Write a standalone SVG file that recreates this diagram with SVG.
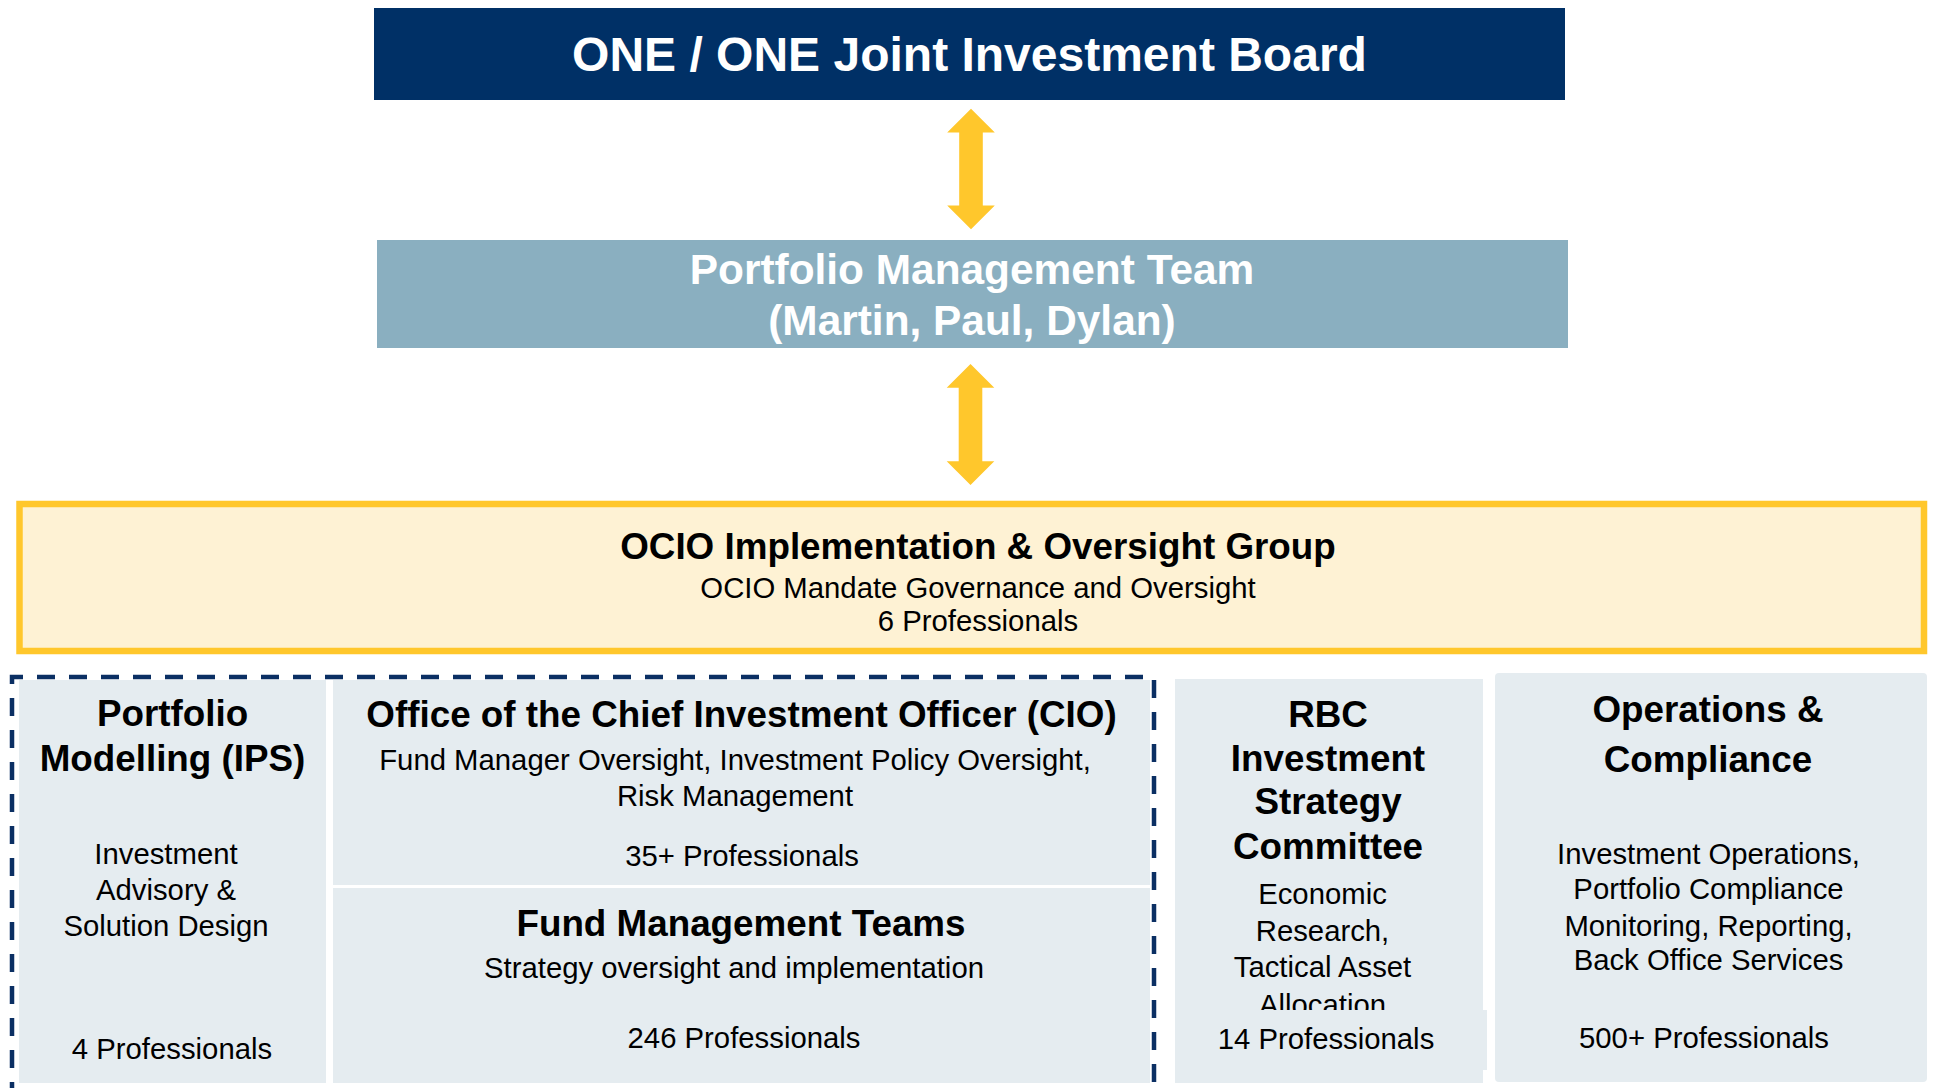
<svg xmlns="http://www.w3.org/2000/svg" width="1933" height="1088" viewBox="0 0 1933 1088">
<style>
text{font-family:"Liberation Sans",Arial,Helvetica,sans-serif;text-anchor:middle}
.h{font-weight:bold;font-size:36.8px;fill:#000}
.t{font-size:29.3px;fill:#000}
.w{fill:#fff;font-weight:bold}
.panel{fill:#E5ECF0}
.arrow{fill:#FFC72C}
</style>
<rect width="1933" height="1088" fill="#fff"/>
<g id="board">
<rect x="374" y="8" width="1191" height="92" fill="#003066"/>
<text class="w" x="969.5" y="71" font-size="48">ONE / ONE Joint Investment Board</text>
</g>
<g id="pmt">
<rect x="377" y="240" width="1191" height="108" fill="#8AAFC0"/>
<text class="w" x="972" y="284" font-size="42.4">Portfolio Management Team</text>
<text class="w" x="972" y="335" font-size="42.4">(Martin, Paul, Dylan)</text>
</g>
<g id="connectors">
<polygon class="arrow" points="971,108.7 994.8,132.4 982.8,132.4 982.8,205.6 994.8,205.6 971,229.3 947.2,205.6 959.2,205.6 959.2,132.4 947.2,132.4"/>
<polygon class="arrow" points="970.5,364 994.3,387.7 982.3,387.7 982.3,461.3 994.3,461.3 970.5,485 946.7,461.3 958.7,461.3 958.7,387.7 946.7,387.7"/>
</g>
<g id="ocio">
<rect x="19.5" y="504" width="1904.5" height="147" fill="#FEF2D4" stroke="#FFC72C" stroke-width="6.5"/>
<text class="h" x="978" y="558.5">OCIO Implementation &amp; Oversight Group</text>
<text class="t" x="978" y="597.5">OCIO Mandate Governance and Oversight</text>
<text class="t" x="978" y="631">6 Professionals</text>
</g>
<g id="internal-group">
<path d="M12,1100 V677 H1154 V1100" fill="none" stroke="#0B2F63" stroke-width="4.5" stroke-dasharray="18 14"/>
</g>
<g id="portfolio-modelling">
<rect class="panel" x="19" y="680" width="307" height="403"/>
<text class="h" x="172.5" y="725.5">Portfolio</text>
<text class="h" x="172.5" y="770.5">Modelling (IPS)</text>
<text class="t" x="166" y="864">Investment</text>
<text class="t" x="166" y="900">Advisory &amp;</text>
<text class="t" x="166" y="936">Solution Design</text>
<text class="t" x="172" y="1059">4 Professionals</text>
</g>
<g id="cio">
<rect class="panel" x="333" y="680" width="817" height="205"/>
<text class="h" x="741.5" y="727">Office of the Chief Investment Officer (CIO)</text>
<text class="t" x="735" y="770">Fund Manager Oversight, Investment Policy Oversight,</text>
<text class="t" x="735" y="806">Risk Management</text>
<text class="t" x="742" y="866">35+ Professionals</text>
</g>
<g id="fund-management">
<rect class="panel" x="333" y="888" width="817" height="195"/>
<text class="h" x="741" y="935.5">Fund Management Teams</text>
<text class="t" x="734" y="977.5">Strategy oversight and implementation</text>
<text class="t" x="744" y="1047.5">246 Professionals</text>
</g>
<g id="rbc">
<rect class="panel" x="1175" y="679" width="308" height="404"/>
<text class="h" x="1328" y="726.5">RBC</text>
<text class="h" x="1328" y="770.5">Investment</text>
<text class="h" x="1328" y="814">Strategy</text>
<text class="h" x="1328" y="858.5">Committee</text>
<text class="t" x="1322.5" y="903.5">Economic</text>
<text class="t" x="1322.5" y="940.5">Research,</text>
<text class="t" x="1322.5" y="977">Tactical Asset</text>
<text class="t" x="1322.5" y="1015">Allocation</text>
<rect class="panel" x="1190" y="1010" width="297" height="60"/>
<text class="t" x="1326" y="1049">14 Professionals</text>
</g>
<g id="operations">
<rect class="panel" x="1495" y="673" width="432" height="409" rx="4"/>
<text class="h" x="1708" y="721.5">Operations &amp;</text>
<text class="h" x="1708" y="771.5">Compliance</text>
<text class="t" x="1708.5" y="864">Investment Operations,</text>
<text class="t" x="1708.5" y="899">Portfolio Compliance</text>
<text class="t" x="1708.5" y="936">Monitoring, Reporting,</text>
<text class="t" x="1708.5" y="970">Back Office Services</text>
<text class="t" x="1704" y="1047.5">500+ Professionals</text>
</g>
</svg>
